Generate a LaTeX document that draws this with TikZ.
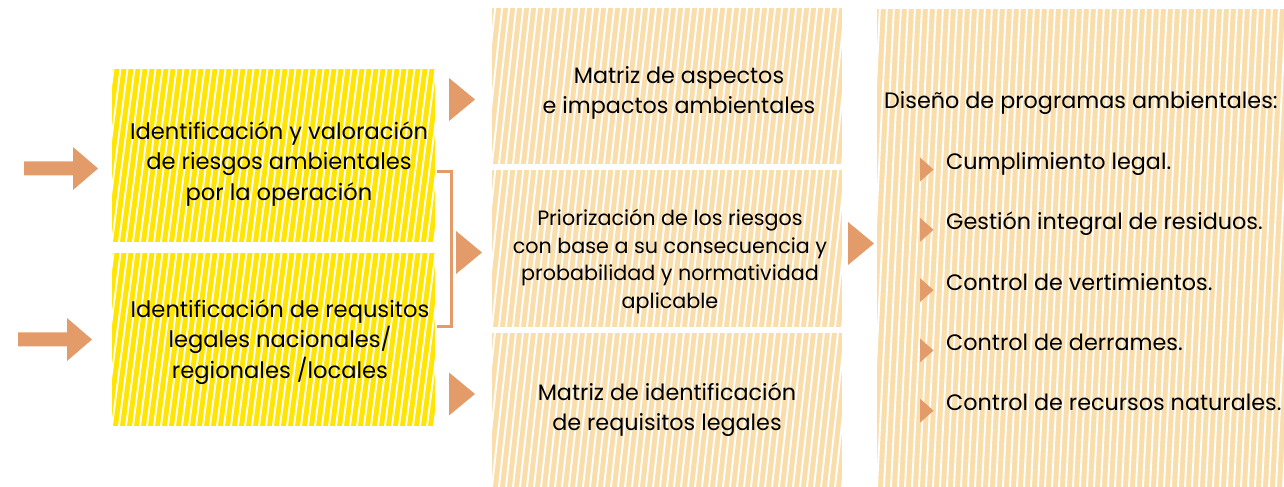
\documentclass[tikz,border=0pt]{standalone}
\usepackage{fontspec}
\setmainfont{Poppins}
\usetikzlibrary{calc}
\definecolor{yel}{HTML}{FFE500}
\definecolor{peach}{HTML}{F9DEAC}
\definecolor{org}{HTML}{E39C69}
\tikzset{
  hatch/.style={path picture={\foreach \k in {-14,...,74}{\draw[white,line width=1.9bp] ([xshift=\k*7bp]path picture bounding box.south west) -- ++(#1*520bp,520bp);}}},
  boxbase/.style={rectangle, inner sep=0pt, outer sep=0pt, draw=none},
  ybox/.style={boxbase, fill=yel, hatch=0.13},
  pbox/.style={boxbase, fill=peach, hatch=0.11},
  qbox/.style={boxbase, fill=peach, hatch=0.05},
  bigtxt/.style={align=center, inner sep=0pt, font=\fontsize{22.6bp}{30.5bp}\selectfont},
  midtxt/.style={align=center, inner sep=0pt, font=\fontsize{22.3bp}{30bp}\selectfont},
  smalltxt/.style={align=center, inner sep=0pt, font=\fontsize{20.7bp}{27.5bp}\selectfont},
  listtxt/.style={anchor=base west, inner sep=0pt, font=\fontsize{22.3bp}{30bp}\selectfont},
  tri/.style={fill=org},
  bracket/.style={draw=org, line width=3bp},
}
\begin{document}
\begin{tikzpicture}[x=1bp,y=-1bp]
\useasboundingbox (0,0) rectangle (1284,487);
% boxes
\node[ybox, minimum width=323bp, minimum height=173bp] (y1) at (273.5,155.5) {};
\node[ybox, minimum width=323bp, minimum height=173bp] (y2) at (273.5,339.5) {};
\node[pbox, minimum width=350bp, minimum height=156bp] (p1) at (667,86) {};
\node[pbox, minimum width=350bp, minimum height=157bp] (p2) at (667,248.5) {};
\node[pbox, minimum width=350bp, minimum height=154bp] (p3) at (667,410) {};
\node[qbox, minimum width=407bp, minimum height=478bp] (c3) at (1080.5,248) {};
% texts
\node[bigtxt] (t1) at (279,164) {Identificación y valoración\\de riesgos ambientales\\por la operación};
\node[bigtxt] (t2) at (280,342) {Identificación de requsitos\\legales nacionales/\\regionales /locales};
\node[midtxt] (t3) at (679,92.5) {Matriz de aspectos\\e impactos ambientales};
\node[smalltxt] (t4) at (670,261.5) {Priorización de los riesgos\\con base a su consecuencia y\\probabilidad y normatividad\\aplicable};
\node[midtxt] (t5) at (667,410) {Matriz de identificación\\de requisitos legales};
\node[listtxt] (h) at (884,109) {Diseño de programas ambientales:};
\foreach \i/\t in {0/Cumplimiento legal., 1/Gestión integral de residuos., 2/Control de vertimientos., 3/Control de derrames., 4/Control de recursos naturales.}{
  \node[listtxt] (l\i) at (946,169.5+60.3*\i) {\t};
  \fill[tri] ($(l\i.base west)+(-26,-12)$) -- ++(13.5,12) -- ++(-13.5,12) -- cycle;
}
% left arrows
\coordinate (a1) at (98,168.5);
\coordinate (a2) at (92,339.5);
\foreach \a in {a1,a2}{
  \fill[tri] (\a) -- ++(-25,-21.5) -- ++(0,14.5) -- ++(-49,0) -- ++(0,14) -- ++(49,0) -- ++(0,14.5) -- cycle;
}
% triangles between columns
\coordinate (r1) at (475,99.5);
\coordinate (r2) at (482,252.5);
\coordinate (r3) at (475,394);
\coordinate (r4) at (874,243.5);
\foreach \r in {r1,r2,r3,r4}{
  \fill[tri] (\r) -- ++(-26,-21.5) -- ++(0,43) -- cycle;
}
% bracket
\coordinate (b1) at (437,171.5);
\coordinate (b2) at (437,326.5);
\draw[bracket] (b1) -- ++(14.5,0) |- (b2);
\end{tikzpicture}
\end{document}
